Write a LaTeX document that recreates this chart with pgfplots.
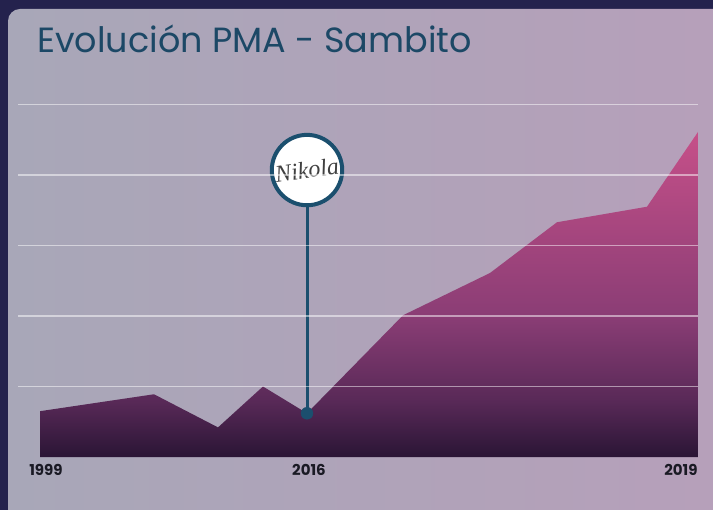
\documentclass[border=0pt]{standalone}
\usepackage{pgfplots}
\pgfplotsset{compat=1.18}
\usepackage{fontspec}
\setmainfont{Poppins}
\newfontfamily\sigfont{Liberation Serif}
\definecolor{frame}{HTML}{24224D}
\definecolor{cardL}{HTML}{A8A7B8}
\definecolor{cardR}{HTML}{B79FBA}
\definecolor{titlecol}{HTML}{1C4866}
\definecolor{tickcol}{HTML}{1A1A24}
\definecolor{mk}{HTML}{1B4F6E}
\definecolor{ashA}{HTML}{2A1535}
\definecolor{ashB}{HTML}{582957}
\definecolor{ashC}{HTML}{8A3D75}
\definecolor{ashD}{HTML}{C65089}
\pgfdeclareverticalshading{areashade}{100bp}{color(0bp)=(ashA); color(25bp)=(ashA); color(33.5bp)=(ashB); color(46.5bp)=(ashC); color(75bp)=(ashD); color(100bp)=(ashD)}
\begin{document}
\begin{tikzpicture}
\useasboundingbox (0,0) rectangle (713bp,510bp);
\fill[frame] (0,0) rectangle (713bp,510bp);
\shade[left color=cardL, right color=cardR, rounded corners=12bp] (8bp,-20bp) rectangle (760bp,501bp);
\node[anchor=base west, inner sep=0, text=titlecol, font=\fontsize{35bp}{40bp}\selectfont] at (37bp,457bp) {Evolución PMA - Sambito};
\begin{axis}[
  at={(18bp,53bp)}, anchor=south west,
  scale only axis, width=680bp, height=352.5bp,
  xmin=-22, xmax=658, ymin=0, ymax=5,
  clip=false,
  axis line style={draw=none},
  major tick style={draw=none},
  ytick={1,2,3,4,5}, yticklabels={},
  ymajorgrids,
  grid style={white, opacity=0.5, line width=1.2bp},
  axis on top,
  xtick={6,269,641},
  xticklabels={1999,2016,2019},
  xticklabel style={font=\fontsize{15bp}{17bp}\selectfont\bfseries, text=tickcol, yshift=-4bp},
]
\addplot[shade, shading=areashade, draw=none] coordinates {
 (0,0.65) (114,0.89) (178,0.42) (223,1.00) (267,0.62) (363,2.01)
 (450,2.61) (517,3.33) (607,3.55) (658,4.61)} \closedcycle;
\addplot[mk, line width=3bp] coordinates {(267,0.62) (267,3.56)};
\addplot[only marks, mark=*, mark size=6bp, mk] coordinates {(267,0.62)};
\node[circle, draw=mk, line width=4bp, fill=white, minimum size=68bp, inner sep=0]
  at (axis cs:267,4.07) {\sigfont\itshape\fontsize{24bp}{24bp}\selectfont\color{black!75}\rotatebox{8}{Nikola}};
\end{axis}
\end{tikzpicture}
\end{document}
